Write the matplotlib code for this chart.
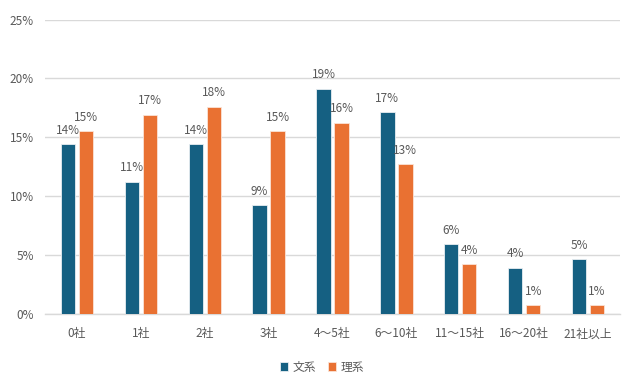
import numpy as np
import matplotlib
matplotlib.use("Agg")
import matplotlib.pyplot as plt
from matplotlib.ticker import FuncFormatter

plt.rcParams['font.family'] = ['Noto Sans CJK JP', 'DejaVu Sans']

categories = ['0社', '1社', '2社', '3社', '4〜5社', '6〜10社', '11〜15社', '16〜20社', '21社以上']
bunkei = [14.4, 11.2, 14.4, 9.2, 19.1, 17.1, 5.9, 3.9, 4.6]
rikei = [15.5, 16.9, 17.6, 15.5, 16.2, 12.7, 4.2, 0.7, 0.7]
bunkei_labels = ['14%', '11%', '14%', '9%', '19%', '17%', '6%', '4%', '5%']
rikei_labels = ['15%', '17%', '18%', '15%', '16%', '13%', '4%', '1%', '1%']

blue = '#156082'
orange = '#E97132'
text_c = '#595959'
grid_c = '#D9D9D9'

fig = plt.figure(figsize=(6.4, 3.91), dpi=100)
ax = fig.add_axes([0.0703, 0.198, 0.8985, 0.752])

x = np.arange(len(categories))
w = 0.225
off = 0.141
b1 = ax.bar(x - off, bunkei, w, color=blue, edgecolor='#e8eef2', linewidth=0.6, label='文系', zorder=3)
b2 = ax.bar(x + off, rikei, w, color=orange, edgecolor='#fbe3d6', linewidth=0.6, label='理系', zorder=3)

for bars, labels in ((b1, bunkei_labels), (b2, rikei_labels)):
    for rect, lab in zip(bars, labels):
        ax.annotate(lab, (rect.get_x() + rect.get_width() / 2, rect.get_height()),
                    xytext=(0, 5.5), textcoords='offset points', ha='center', va='bottom',
                    fontsize=8.5, color=text_c)

ax.set_xlim(-0.5, len(categories) - 0.5)
ax.set_ylim(0, 25)
ax.set_yticks(np.arange(0, 26, 5))
ax.yaxis.set_major_formatter(FuncFormatter(lambda v, p: f'{v:.0f}%'))
ax.set_xticks(x)
ax.set_xticklabels(categories)
ax.tick_params(axis='both', length=0, labelsize=8.5, labelcolor=text_c)
ax.tick_params(axis='y', pad=8)
ax.tick_params(axis='x', pad=10)
ax.grid(axis='y', color=grid_c, linewidth=1, zorder=0)
for s in ['left', 'right', 'top']:
    ax.spines[s].set_visible(False)
ax.spines['bottom'].set_color(grid_c)
ax.spines['bottom'].set_linewidth(1)

fig.legend(loc='center', bbox_to_anchor=(0.503, 0.061), ncol=2, frameon=False,
           fontsize=8.5, labelcolor=text_c, handlelength=0.7, handleheight=0.7,
           handletextpad=0.4, columnspacing=1.0)

fig.savefig('out.png', dpi=100)
